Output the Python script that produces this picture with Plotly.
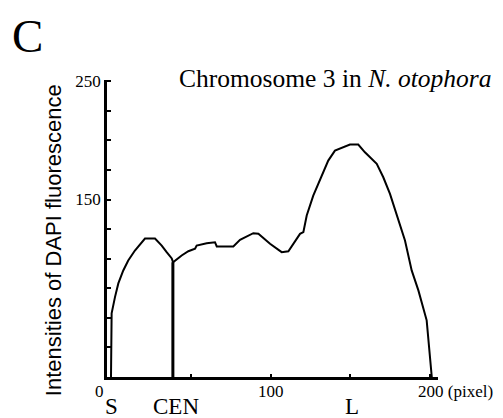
import plotly.graph_objects as go

# Profile of DAPI fluorescence along chromosome 3 (pixel position vs intensity)
pos = [0, 0.4, 2.5, 4.6, 7.7, 10.8, 15.0, 21.3, 27.6, 31.8, 34.9, 38.1, 38.9,
       44.3, 48.5, 52.7, 53.7, 60.0, 65.2, 66.3, 76.7, 80.9, 89.2, 92.4, 99.7,
       107.0, 111.2, 114.3, 118.5, 120.6, 122.7, 126.8, 129.0, 133.1, 136.2,
       140.4, 145.6, 149.8, 155.0, 159.2, 166.6, 170.7, 174.9, 179.1, 184.3,
       188.5, 192.7, 197.9, 201.1]
intensity = [0, 53.8, 67.5, 79.1, 90.0, 98.5, 106.9, 117.0, 117.0, 111.1, 105.5, 100.2, 97.0,
             102.7, 106.3, 108.4, 111.1, 113.1, 113.9, 110.3, 110.3, 115.9, 121.5, 121.0, 112.6,
             105.5, 106.3, 112.6, 121.0, 122.4, 136.5, 153.3, 160.3, 174.4, 182.9,
             191.3, 194.1, 196.4, 196.4, 189.9, 180.1, 168.8, 154.8, 137.9, 115.4,
             90.1, 73.2, 47.9, 0]

# Centromere marker
cen_pos = [38.8, 38.8]
cen_val = [0, 97.0]

y_tick_vals = [0, 25, 50, 75, 100, 125, 150, 175, 200, 225, 250]
y_tick_text = ["", "", "", "", "", "", "150", "", "", "", "250"]

x_tick_vals = [0, 50, 100, 150, 200]
x_label_vals = [0, 100, 200]
x_label_text = ["0", "100", "200 (pixel)"]
region_pos = [0.3, 40.8, 151]
region_text = ["S", "CEN", "L"]

serif = "Liberation Serif, Times New Roman, serif"
sans = "Liberation Sans, Arial, sans-serif"

fig = go.Figure()
fig.add_trace(go.Scatter(x=pos, y=intensity, mode="lines",
                         line=dict(color="black", width=2), showlegend=False,
                         hoverinfo="skip"))
fig.add_trace(go.Scatter(x=cen_pos, y=cen_val, mode="lines",
                         line=dict(color="black", width=3), showlegend=False,
                         hoverinfo="skip"))

annotations = []
# x-axis value labels
x_shifts = [-11, 0, -14]
x_anchors = ["center", "center", "left"]
for xv, t, sh, an in zip(x_label_vals, x_label_text, x_shifts, x_anchors):
    annotations.append(dict(x=xv, y=0, xref="x", yref="y", text=t, showarrow=False,
                            xanchor=an, yanchor="middle", xshift=sh, yshift=-14,
                            font=dict(family=serif, size=17, color="black")))
# chromosome region labels
for xv, t in zip(region_pos, region_text):
    annotations.append(dict(x=xv, y=0, xref="x", yref="y", text=t, showarrow=False,
                            xanchor="center", yanchor="middle", yshift=-29,
                            font=dict(family=serif, size=23, color="black")))
# title
annotations.append(dict(x=0.211, y=1.005, xref="paper", yref="paper",
                        text="Chromosome 3 in <i>N. otophora</i>", showarrow=False,
                        xanchor="left", yanchor="middle",
                        font=dict(family=serif, size=25.5, color="black")))
# panel letter
annotations.append(dict(x=-0.239, y=1.242, xref="paper", yref="paper",
                        text="C", showarrow=False, xanchor="center", yanchor="top",
                        font=dict(family=serif, size=47, color="black")))
# y-axis title
annotations.append(dict(x=-0.163, y=0.461, xref="paper", yref="paper",
                        text="Intensities of DAPI fluorescence", showarrow=False,
                        textangle=-90, xanchor="center", yanchor="middle",
                        font=dict(family=sans, size=22, color="black")))

# the page body keeps an 8px default margin, so the figure is sized to fit the window
fig.update_layout(
    width=495, height=410,
    margin=dict(l=99, r=65, t=72, b=41),
    paper_bgcolor="white", plot_bgcolor="white",
    annotations=annotations,
    xaxis=dict(range=[-2.5, 205], showgrid=False, zeroline=False,
               showline=True, linecolor="black", linewidth=2.5,
               ticks="inside", tickvals=x_tick_vals, ticklen=3,
               tickwidth=2, tickcolor="black", showticklabels=False),
    yaxis=dict(range=[0, 251], showgrid=False, zeroline=False,
               showline=True, linecolor="black", linewidth=2.5,
               ticks="inside", tickvals=y_tick_vals, ticktext=y_tick_text,
               ticklen=4, tickwidth=2, tickcolor="black",
               tickfont=dict(family=serif, size=17, color="black")),
)

fig.write_html("out.html")
